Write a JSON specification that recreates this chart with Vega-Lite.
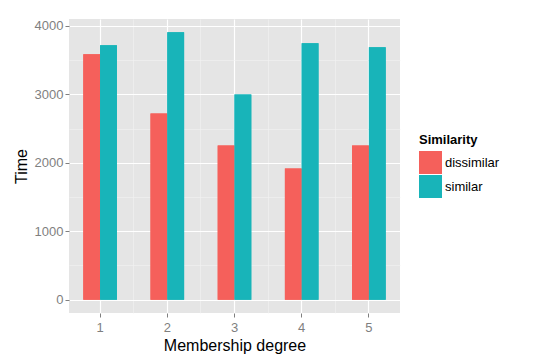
{
  "$schema": "https://vega.github.io/schema/vega-lite/v6.json",
  "width": 331,
  "height": 294,
  "autosize": {"type": "none"},
  "padding": {"left": 69, "top": 19, "right": 137, "bottom": 50},
  "background": "white",
  "config": {
    "font": "Liberation Sans",
    "view": {"fill": "#E5E5E5", "stroke": null},
    "axis": {"domain": false}
  },
  "data": {
    "values": [
      {"degree": "1", "Similarity": "dissimilar", "Time": 3585},
      {"degree": "1", "Similarity": "similar", "Time": 3717},
      {"degree": "2", "Similarity": "dissimilar", "Time": 2722},
      {"degree": "2", "Similarity": "similar", "Time": 3907},
      {"degree": "3", "Similarity": "dissimilar", "Time": 2254},
      {"degree": "3", "Similarity": "similar", "Time": 3000},
      {"degree": "4", "Similarity": "dissimilar", "Time": 1917},
      {"degree": "4", "Similarity": "similar", "Time": 3746},
      {"degree": "5", "Similarity": "dissimilar", "Time": 2254},
      {"degree": "5", "Similarity": "similar", "Time": 3688}
    ]
  },
  "layer": [
    {
      "mark": {"type": "bar"},
      "encoding": {
        "x": {
          "field": "degree", "type": "ordinal",
          "scale": {"paddingInner": 0.5, "paddingOuter": 0.213},
          "axis": {"orient": "top", "title": null, "labels": false, "ticks": false, "grid": true, "gridColor": "#F2F2F2", "gridWidth": 0.6, "values": ["1", "2", "3", "4"], "bandPosition": 1.5}
        },
        "xOffset": {"field": "Similarity", "type": "nominal", "scale": {"paddingInner": 0, "paddingOuter": 0}},
        "y": {
          "field": "Time", "type": "quantitative",
          "scale": {"domain": [-195, 4102], "nice": false, "zero": false},
          "axis": {"orient": "right", "title": null, "labels": false, "ticks": false, "grid": true, "gridColor": "#F2F2F2", "gridWidth": 0.6, "values": [500, 1500, 2500, 3500]}
        },
        "color": {"field": "Similarity", "type": "nominal", "scale": {"range": ["#F5605B", "#18B4B9"]}}
      }
    },
    {
      "mark": {"type": "bar"},
      "encoding": {
        "x": {
          "field": "degree", "type": "ordinal",
          "axis": {"orient": "bottom", "title": "Membership degree", "titleFontSize": 16, "titleFontWeight": "normal", "titleColor": "#000000", "titlePadding": 3, "labelAngle": 0, "labelFontSize": 13, "labelColor": "#7F7F7F", "labelPadding": 4, "ticks": true, "tickColor": "#7F7F7F", "tickSize": 4, "grid": true, "gridColor": "#FFFFFF", "gridWidth": 1.2, "bandPosition": 0.5}
        },
        "xOffset": {"field": "Similarity", "type": "nominal"},
        "y": {
          "field": "Time", "type": "quantitative",
          "axis": {"orient": "left", "title": "Time", "format": "d", "titleFontSize": 16, "titleFontWeight": "normal", "titleColor": "#000000", "titlePadding": 5, "labelFontSize": 13, "labelColor": "#7F7F7F", "labelPadding": 2, "tickColor": "#7F7F7F", "tickSize": 4, "grid": true, "gridColor": "#FFFFFF", "gridWidth": 1.2, "values": [0, 1000, 2000, 3000, 4000]}
        },
        "color": {
          "field": "Similarity", "type": "nominal",
          "legend": {"orient": "none", "legendX": 350, "legendY": 115, "title": "Similarity", "titleFontSize": 13, "titleFontWeight": "bold", "titleColor": "#000000", "titlePadding": 4, "symbolType": "square", "symbolSize": 529, "symbolStrokeWidth": 0, "symbolOpacity": 1, "labelFontSize": 13, "labelColor": "#000000", "labelOffset": 3, "rowPadding": 1}
        }
      }
    }
  ],
  "resolve": {"axis": {"x": "independent", "y": "independent"}}
}
